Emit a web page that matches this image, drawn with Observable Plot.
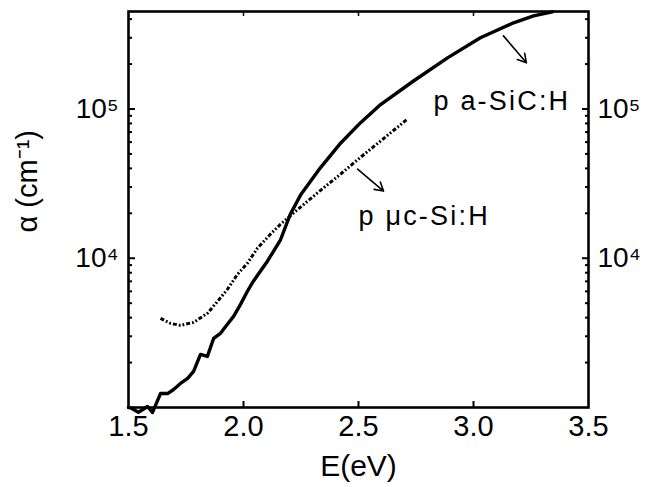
<!DOCTYPE html>
<html><head><meta charset="utf-8">
<script src="https://cdn.jsdelivr.net/npm/d3@7"></script>
<script src="https://cdn.jsdelivr.net/npm/@observablehq/plot@0.6"></script>
<style>html,body{margin:0;padding:0;background:#fff} svg{display:block}</style>
</head><body><div id="chart"></div>
<script>
// p a-SiC:H (solid)
const E_sic = [1.500, 1.509, 1.543, 1.583, 1.604, 1.639, 1.670, 1.696, 1.726, 1.757, 1.783, 1.813, 1.843, 1.870, 1.900, 1.930, 1.957, 1.987, 2.017, 2.043, 2.104, 2.161, 2.204, 2.248, 2.335, 2.422, 2.509, 2.596, 2.739, 2.887, 3.030, 3.174, 3.261, 3.343];
const alpha_sic = [1000, 995, 930, 1015, 925, 1240, 1240, 1320, 1450, 1565, 1745, 2270, 2200, 2900, 3140, 3610, 4080, 4910, 6010, 7020, 9550, 13300, 19800, 26500, 40500, 59000, 81000, 107000, 154000, 220000, 300000, 378000, 421000, 448000];
// p uc-Si:H (dash-dot-dot)
const E_uc = [1.639, 1.683, 1.726, 1.783, 1.843, 1.887, 1.930, 1.974, 2.017, 2.061, 2.117, 2.161, 2.248, 2.335, 2.422, 2.509, 2.596, 2.713];
const alpha_uc = [3950, 3660, 3550, 3720, 4270, 5140, 6190, 7810, 9250, 11700, 14500, 16900, 22000, 28500, 36600, 47500, 61000, 85700];

const xTicks = [1.5, 2.0, 2.5, 3.0, 3.5];
const xInnerTicks = [2.0, 2.5, 3.0];
const yMajor = [1e4, 1e5];
const yLabels = ["10⁴", "10⁵"];
const yMinor = [2e3,3e3,4e3,5e3,6e3,7e3,8e3,9e3, 2e4,3e4,4e4,5e4,6e4,7e4,8e4,9e4, 2e5,3e5,4e5];

const annText = ["p a-SiC:H", "p μc-Si:H"];
const annE = [2.826, 2.50];
const annA = [113000, 19100];
const arrE1 = [3.13, 2.496], arrA1 = [309000, 39500];
const arrE2 = [3.23, 2.609], arrA2 = [204000, 28200];

const xTitle = "E(eV)";
const yTitle = "α (cm⁻¹)";

const font = "Arial, 'Liberation Sans', Helvetica, sans-serif";
const yFmt = d => yLabels[yMajor.indexOf(d)] ?? "";

const chart = Plot.plot({
  width: 645, height: 487,
  marginLeft: 128, marginRight: 57, marginTop: 11, marginBottom: 80,
  style: {fontFamily: font, fontSize: "28px", color: "#000", background: "#fff"},
  x: {domain: [1.5, 3.5]},
  y: {type: "log", domain: [1000, 450000]},
  marks: [
    Plot.line(E_sic, {x: E_sic, y: alpha_sic, stroke: "#000", strokeWidth: 3.4}),
    Plot.line(E_uc, {x: E_uc, y: alpha_uc, stroke: "#000", strokeWidth: 3, strokeLinecap: "butt", strokeLinejoin: "miter", strokeDasharray: "4 2 1.8 2 1.8 2"}),
    Plot.arrow(arrE1, {x1: arrE1, y1: arrA1, x2: arrE2, y2: arrA2, stroke: "#000", strokeWidth: 1.6, headLength: 9}),
    Plot.text(annText, {x: annE, y: annA, text: annText, textAnchor: "start", fontSize: 27, fill: "#000"}),
    // tick labels
    Plot.axisX(xTicks, {anchor: "bottom", tickSize: 0, tickPadding: 8, fontSize: 29, tickFormat: d3.format(".1f"), label: null}),
    Plot.axisY(yMajor, {anchor: "left", tickSize: 0, tickPadding: 10, fontSize: 28, tickFormat: yFmt, label: null}),
    Plot.axisY(yMajor, {anchor: "right", tickSize: 0, tickPadding: 9, fontSize: 28, tickFormat: yFmt, label: null}),
    // inward ticks
    Plot.axisX(xInnerTicks, {anchor: "bottom", tickSize: -6, strokeWidth: 2, text: null, label: null}),
    Plot.axisX(xInnerTicks, {anchor: "top", tickSize: -4, strokeWidth: 1.5, text: null, label: null}),
    Plot.axisY(yMajor, {anchor: "left", tickSize: -7, strokeWidth: 2, text: null, label: null}),
    Plot.axisY(yMinor, {anchor: "left", tickSize: -4, strokeWidth: 2, text: null, label: null}),
    Plot.axisY(yMajor, {anchor: "right", tickSize: -7, strokeWidth: 2, text: null, label: null}),
    Plot.axisY(yMinor, {anchor: "right", tickSize: -4, strokeWidth: 2, text: null, label: null}),
    // axis titles
    Plot.text([xTitle], {frameAnchor: "bottom", dy: 68, lineAnchor: "bottom", fontSize: 30, text: d => d, fill: "#000"}),
    Plot.text([yTitle], {frameAnchor: "left", dx: -101, dy: 23, rotate: -90, fontSize: 29, text: d => d, fill: "#000"}),
    Plot.frame({stroke: "#000", strokeWidth: 2.6})
  ]
});
document.getElementById("chart").appendChild(chart);
d3.select(chart).selectAll("text").filter(function() { return annText.includes(this.textContent); }).attr("letter-spacing", "2.2");
</script>
</body></html>
